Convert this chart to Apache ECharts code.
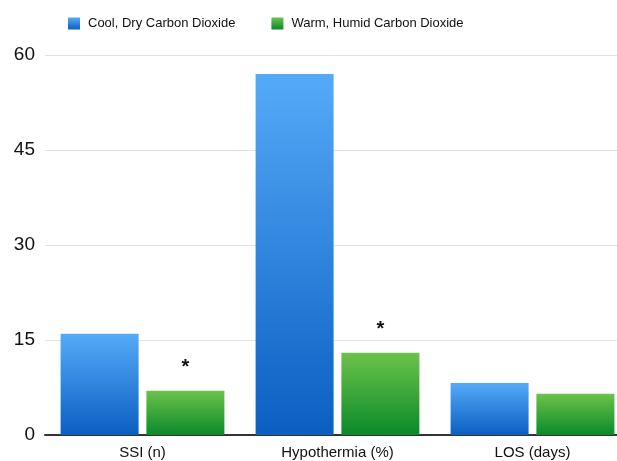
<!DOCTYPE html>
<html><head><meta charset="utf-8">
<script src="https://cdn.jsdelivr.net/npm/echarts@6/dist/echarts.min.js"></script>
<style>html,body{margin:0;padding:0;background:#fff}#c{width:617px;height:461px}</style>
</head><body><div id="c"></div>
<script>
var categories = ['SSI (n)', 'Hypothermia (%)', 'LOS (days)'];
var coolDry = [16, 57, 8.2];
var warmHumid = [7, 13, 6.5];
var significance = ['*', '*', ''];
var seriesNames = ['Cool, Dry Carbon Dioxide', 'Warm, Humid Carbon Dioxide'];
var yTicks = [0, 15, 30, 45, 60];

var font = '"Liberation Sans", Arial, Helvetica, sans-serif';
function grad(top, bottom) {
  return new echarts.graphic.LinearGradient(0, 0, 0, 1, [{offset: 0, color: top}, {offset: 1, color: bottom}]);
}
var chart = echarts.init(document.getElementById('c'));
chart.setOption({
  animation: false,
  textStyle: {fontFamily: font},
  legend: {
    top: 12, left: 63, itemWidth: 12, itemHeight: 12, itemGap: 36, icon: 'rect',
    textStyle: {fontSize: 13, color: '#111', fontFamily: font, padding: [0, 0, 0, 3]},
    data: seriesNames
  },
  grid: {left: 45, width: 585, top: 55, bottom: 26, outerBoundsMode: 'none'},
  xAxis: {
    type: 'category', data: categories,
    axisLine: {lineStyle: {color: '#333', width: 2}},
    axisTick: {show: false},
    axisLabel: {fontSize: 15, color: '#111', margin: 10, fontFamily: font}
  },
  yAxis: {
    type: 'value', min: yTicks[0], max: yTicks[yTicks.length - 1], interval: 15,
    axisLine: {show: false}, axisTick: {show: false},
    axisLabel: {fontSize: 19, color: '#111', margin: 10, fontFamily: font},
    splitLine: {lineStyle: {color: '#e2e2e2', width: 1}}
  },
  series: [
    {
      name: seriesNames[0], type: 'bar', data: coolDry,
      barGap: '10%', barCategoryGap: '16%',
      itemStyle: {color: grad('#55aaf8', '#0a5fc2')}
    },
    {
      name: seriesNames[1], type: 'bar', data: warmHumid,
      itemStyle: {color: grad('#6cc24a', '#0a8a2a')},
      label: {
        show: true, position: 'top', distance: 13, fontSize: 20, fontWeight: 'bold', color: '#111', fontFamily: font,
        formatter: function (p) { return significance[p.dataIndex]; }
      }
    }
  ]
});
</script></body></html>
